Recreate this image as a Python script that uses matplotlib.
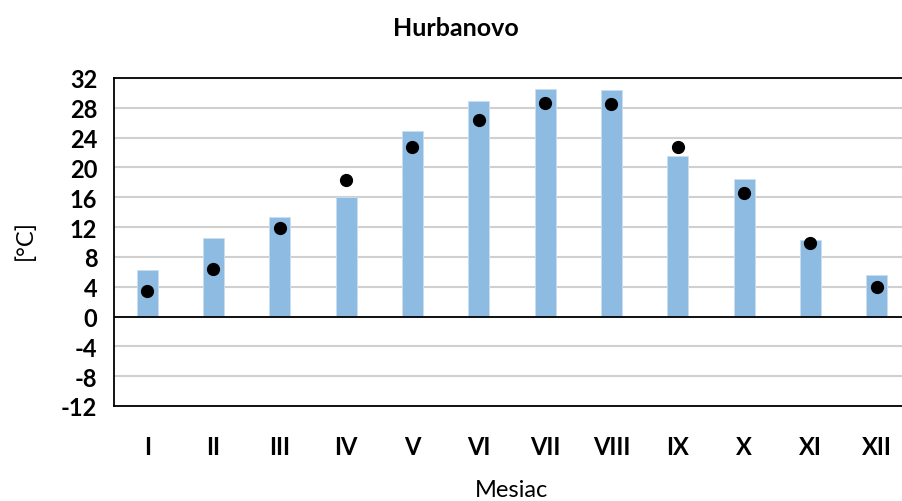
import numpy as np
import matplotlib.pyplot as plt

# mesiace a hodnoty
mesiace = ['I', 'II', 'III', 'IV', 'V', 'VI', 'VII', 'VIII', 'IX', 'X', 'XI', 'XII']
stlpce = [6.3, 10.5, 13.3, 16.0, 24.9, 28.9, 30.5, 30.4, 21.6, 18.4, 10.3, 5.6]
body = [3.4, 6.4, 11.9, 18.3, 22.8, 26.4, 28.6, 28.5, 22.8, 16.6, 9.9, 3.9]
yticky = np.arange(-12, 33, 4)

plt.rcParams['font.family'] = ['Lato', 'DejaVu Sans']

fig = plt.figure(figsize=(9.03, 5.02), dpi=100)
ax = fig.add_axes([114 / 903, 1 - 407 / 502, 796 / 903, 328 / 502])

x = np.arange(len(mesiace))
ax.bar(x, stlpce, width=0.32, color='#8DBBE2', edgecolor='#C9DFF1', linewidth=0.6, zorder=2)
ax.plot(x, body, 'o', color='black', markersize=8.5, zorder=3)

ax.set_xlim(-0.5, len(mesiace) - 0.5)
ax.set_ylim(-12, 32)
ax.set_yticks(yticky)
ax.set_yticklabels([str(v) for v in yticky], fontsize=17, fontweight='bold')
ax.set_xticks(x)
ax.set_xticklabels(mesiace, fontsize=17, fontweight='bold')
ax.tick_params(axis='both', length=0)
ax.tick_params(axis='x', pad=21)
ax.tick_params(axis='y', pad=12)

ax.grid(axis='y', color='#D0D0D0', linewidth=1.5, zorder=0)
ax.axhline(0, color='black', linewidth=1.3, zorder=2.5)

for s in ['left', 'top', 'bottom']:
    ax.spines[s].set_linewidth(1.3)
ax.spines['right'].set_visible(False)

ax.set_xlabel('Mesiac', fontsize=17, labelpad=15)
fig.text(25 / 903, 1 - 240 / 502, '[°C]', fontsize=17, rotation=90, ha='center', va='center')
fig.text(456 / 903, 1 - 28 / 502, 'Hurbanovo', fontsize=18, fontweight='bold', ha='center', va='center')

fig.savefig('out.png', dpi=100)
